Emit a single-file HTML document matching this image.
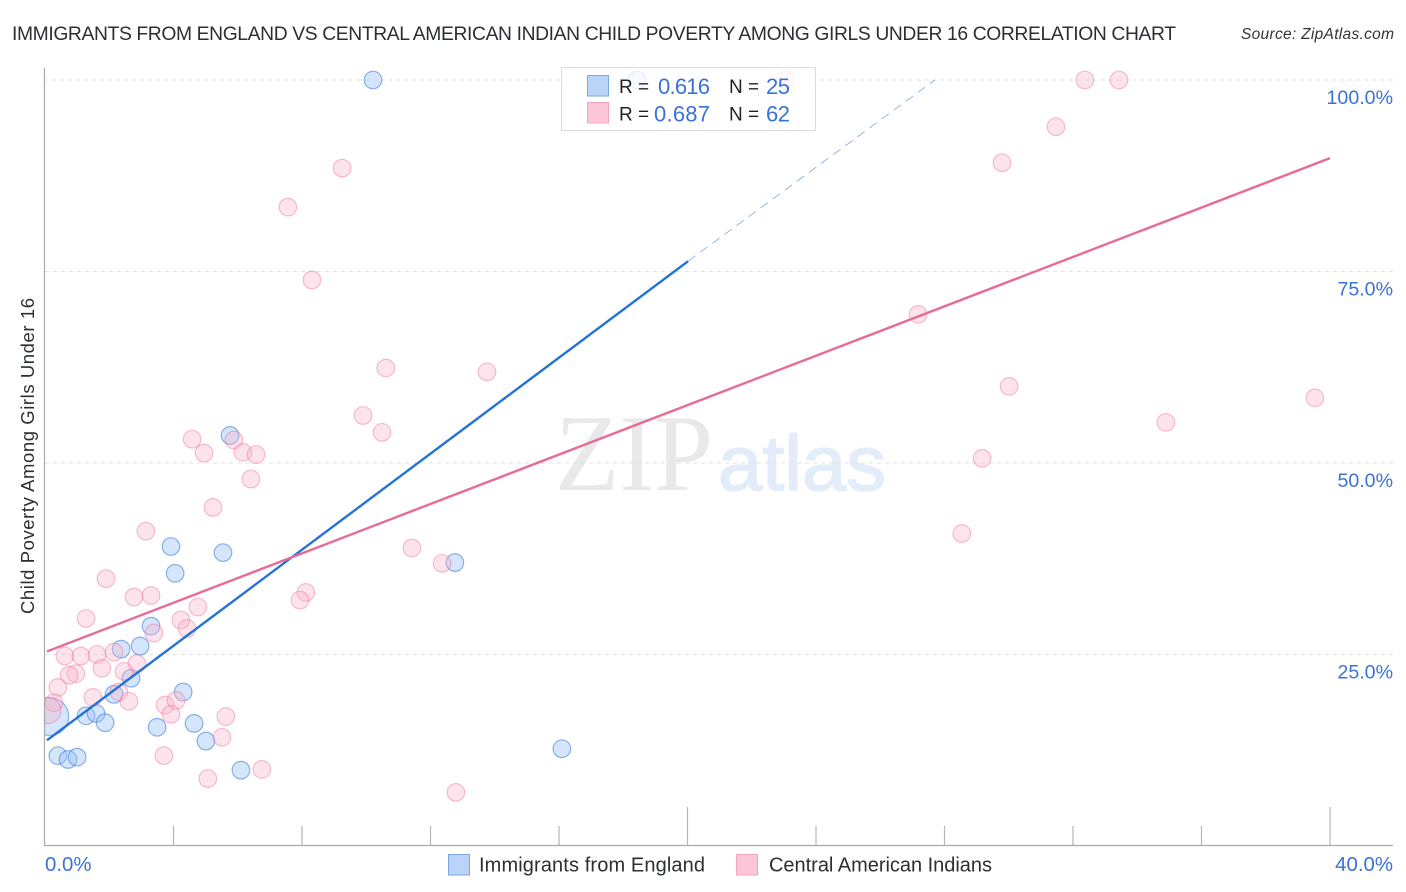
<!DOCTYPE html>
<html lang="en">
<head>
<meta charset="utf-8">
<title>Immigrants from England vs Central American Indian Child Poverty Chart</title>
<style>
html,body{margin:0;padding:0;background:#fff;width:1406px;height:892px;overflow:hidden}
svg{display:block}
text{font-family:"Liberation Sans",sans-serif}
</style>
</head>
<body>
<svg id="chart" xmlns="http://www.w3.org/2000/svg" width="1406" height="892" viewBox="0 0 1406 892">
  <defs>
    <clipPath id="plot-clip"><rect x="45" y="60" width="1348" height="785"/></clipPath>
  </defs>
  <rect x="0" y="0" width="1406" height="892" fill="#fff"/>
  <text x="12" y="40" font-size="19.3" fill="#2b2f33" textLength="1164" lengthAdjust="spacing">IMMIGRANTS FROM ENGLAND VS CENTRAL AMERICAN INDIAN CHILD POVERTY AMONG GIRLS UNDER 16 CORRELATION CHART</text>
  <text x="1241" y="39" font-size="15.5" font-style="italic" fill="#333" textLength="153" lengthAdjust="spacing">Source: ZipAtlas.com</text>

  <g>
    <text x="555" y="490" font-size="109" fill="#e9e9e9" style="font-family:'Liberation Serif',serif" textLength="158" lengthAdjust="spacingAndGlyphs">ZIP</text>
    <text x="718" y="490" font-size="78" fill="#e3edfa" stroke="#e3edfa" stroke-width="1.6" textLength="168" lengthAdjust="spacingAndGlyphs">atlas</text>
  </g>

  <g id="grid"></g>
  <g id="points" clip-path="url(#plot-clip)"></g>
  <g id="trends"></g>
  <g id="axes"></g>

  <text transform="translate(34,614) rotate(-90)" x="0" y="0" font-size="18.5" fill="#2b2f33" textLength="316" lengthAdjust="spacing">Child Poverty Among Girls Under 16</text>

  <g>
    <rect x="561.5" y="67.5" width="254" height="63" fill="#fff" fill-opacity="0.78" stroke="#dcdcdc" stroke-width="1"/>
    <rect x="587.5" y="75.5" width="21" height="20.5" fill="#b9d4f7" stroke="#7ba9e3"/>
    <text x="619" y="93" font-size="19" fill="#222">R =</text>
    <text x="658" y="94" font-size="22" fill="#3b72d6" textLength="52" lengthAdjust="spacing">0.616</text>
    <text x="729" y="93" font-size="19" fill="#222">N =</text>
    <text x="766" y="94" font-size="22" fill="#3b72d6" textLength="24" lengthAdjust="spacing">25</text>
    <rect x="587.5" y="102.5" width="21" height="20.5" fill="#fdc6d8" stroke="#f3a5c0"/>
    <text x="619" y="120.5" font-size="19" fill="#222">R =</text>
    <text x="654" y="121.5" font-size="22" fill="#3b72d6" textLength="56" lengthAdjust="spacing">0.687</text>
    <text x="729" y="120.5" font-size="19" fill="#222">N =</text>
    <text x="766" y="121.5" font-size="22" fill="#3b72d6" textLength="24" lengthAdjust="spacing">62</text>
  </g>

  <g>
    <rect x="448.5" y="854.5" width="21" height="20.5" fill="#b9d4f7" stroke="#7ba9e3"/>
    <text x="479" y="871.5" font-size="20" fill="#2b2f33" textLength="226" lengthAdjust="spacing">Immigrants from England</text>
    <rect x="736.5" y="854.5" width="21" height="20.5" fill="#fdc6d8" stroke="#f3a5c0"/>
    <text x="769" y="871.5" font-size="20" fill="#2b2f33" textLength="223" lengthAdjust="spacing">Central American Indians</text>
  </g>
</svg>

<script>
const xTickValues = [4, 8, 12, 16, 20, 24, 28, 32, 36, 40];
const xMajorTicks = [20, 40];
const xTickLabels = ['0.0%', '40.0%'];
const xLabelValues = [0, 40];
const yTickValues = [25, 50, 75, 100];
const yTickLabels = ['25.0%', '50.0%', '75.0%', '100.0%'];

const englandX = [10.21, 18.43, 5.76, 3.92, 5.54, 4.05, 12.76, 3.30, 2.37, 2.96, 2.68, 2.15, 4.30, 1.28, 1.59, 1.87, 3.49, 4.64, 5.01, 6.10, 16.09, 0.40, 0.72, 1.00, 0.15];
const englandY = [100, 100, 53.6, 39.1, 38.3, 35.6, 37.0, 28.7, 25.7, 26.1, 21.9, 19.8, 20.1, 17.0, 17.3, 16.1, 15.5, 16.0, 13.7, 9.9, 12.7, 11.8, 11.3, 11.6, 16.9];
const englandWeight = [1, 1, 1, 1, 1, 1, 1, 1, 1, 1, 1, 1, 1, 1, 1, 1, 1, 1, 1, 1, 1, 1, 1, 1, 4.6];

const centralX = [23.04, 32.37, 33.43, 31.47, 29.79, 9.25, 7.56, 8.31, 27.18, 30.01, 10.61, 13.76, 39.53, 9.90, 10.49, 34.89, 4.58, 5.88, 4.95, 6.16, 6.57, 29.17, 6.41, 5.23, 3.14, 28.54, 11.42, 12.36, 1.90, 2.77, 3.30, 8.12, 7.94, 4.76, 1.28, 4.23, 3.39, 4.42, 0.62, 1.12, 1.62, 2.15, 2.86, 2.46, 1.77, 0.96, 0.75, 0.40, 1.49, 2.30, 2.61, 0.28, 3.74, 4.08, 3.92, 5.63, 5.51, 3.70, 6.75, 5.07, 12.79, 0.09];
const centralY = [100, 100, 100, 93.9, 89.2, 88.5, 83.4, 73.9, 69.4, 60.0, 62.4, 61.9, 58.5, 56.2, 54.0, 55.3, 53.1, 53.0, 51.3, 51.4, 51.1, 50.6, 47.9, 44.2, 41.1, 40.8, 38.9, 36.9, 34.9, 32.5, 32.7, 33.1, 32.1, 31.2, 29.7, 29.5, 27.8, 28.4, 24.8, 24.8, 25.0, 25.3, 23.8, 22.8, 23.2, 22.5, 22.3, 20.7, 19.4, 20.1, 18.9, 18.7, 18.4, 19.0, 17.2, 16.9, 14.2, 11.8, 10.0, 8.8, 7.0, 17.7];
const centralWeight = [1, 1, 1, 1, 1, 1, 1, 1, 1, 1, 1, 1, 1, 1, 1, 1, 1, 1, 1, 1, 1, 1, 1, 1, 1, 1, 1, 1, 1, 1, 1, 1, 1, 1, 1, 1, 1, 1, 1, 1, 1, 1, 1, 1, 1, 1, 1, 1, 1, 1, 1, 1, 1, 1, 1, 1, 1, 1, 1, 1, 1, 2.2];

const englandTrendX = [0.06, 20.02];
const englandTrendY = [13.8, 76.35];
const englandProjectionX = [20.02, 27.7];
const englandProjectionY = [76.35, 100];
const centralTrendX = [0.06, 40];
const centralTrendY = [25.4, 89.8];

const NS = 'http://www.w3.org/2000/svg';
function xScale(v) { return 45 + v * 32.125; }
function yScale(v) { return 846 - v * 7.66; }
function make(tag, parent, attrs) {
  const el = document.createElementNS(NS, tag);
  for (const k in attrs) el.setAttribute(k, attrs[k]);
  parent.appendChild(el);
  return el;
}

const gridG = document.getElementById('grid');
const pointsG = document.getElementById('points');
const trendsG = document.getElementById('trends');
const axesG = document.getElementById('axes');

yTickValues.forEach(function (t, i) {
  const line = make('line', gridG, { x1: 45, x2: 1393, y1: yScale(t), y2: yScale(t), stroke: '#e2e2e2', 'stroke-width': 0.9, 'stroke-dasharray': '4 4' });
  
  
  const label = make('text', axesG, { x: 1393, y: yScale(t) + 24, 'font-size': 19.6, fill: '#3b72d6', 'text-anchor': 'end' });
  label.textContent = yTickLabels[i];
  
  
});

function drawSeries(xs, ys, weights, fill, stroke, name) {
  xs.forEach(function (x, i) {
    const c = make('circle', pointsG, { cx: xScale(x), cy: yScale(ys[i]), r: 8.8 * Math.sqrt(weights[i]), fill: fill, stroke: stroke, 'stroke-width': 1.2 });
    
    
  });
}
drawSeries(englandX, englandY, englandWeight, 'rgba(150,190,245,0.4)', 'rgba(55,120,215,0.55)', 'england-point');
drawSeries(centralX, centralY, centralWeight, 'rgba(250,175,200,0.34)', 'rgba(235,105,150,0.42)', 'central-american-point');

const t1 = make('line', trendsG, { x1: xScale(englandTrendX[0]), y1: yScale(englandTrendY[0]), x2: xScale(englandTrendX[1]), y2: yScale(englandTrendY[1]), stroke: '#2372d8', 'stroke-width': 2.4 });


const t2 = make('line', trendsG, { x1: xScale(englandProjectionX[0]), y1: yScale(englandProjectionY[0]), x2: xScale(englandProjectionX[1]), y2: yScale(englandProjectionY[1]), stroke: '#7fa6de', 'stroke-width': 0.8, 'stroke-dasharray': '9 6' });


const t3 = make('line', trendsG, { x1: xScale(centralTrendX[0]), y1: yScale(centralTrendY[0]), x2: xScale(centralTrendX[1]), y2: yScale(centralTrendY[1]), stroke: '#e86a9a', 'stroke-width': 2.4 });



const yAxis = make('line', axesG, { x1: 44.5, x2: 44.5, y1: 68, y2: 846, stroke: '#aaa', 'stroke-width': 1.2 });


const xAxis = make('line', axesG, { x1: 44, x2: 1393, y1: 845.5, y2: 845.5, stroke: '#aaa', 'stroke-width': 1.2 });



xTickValues.forEach(function (t) {
  const major = xMajorTicks.indexOf(t) >= 0;
  const tick = make('line', axesG, { x1: xScale(t), x2: xScale(t), y1: major ? 807 : 826, y2: 845, stroke: '#b5b5b5', 'stroke-width': 1.2 });
  
  
});

xLabelValues.forEach(function (v, i) {
  const label = make('text', axesG, { x: i === 0 ? xScale(v) : 1393, y: 871, 'font-size': 20.4, fill: '#3b72d6', 'text-anchor': i === 0 ? 'start' : 'end' });
  label.textContent = xTickLabels[i];
  
  
});
</script>
</body>
</html>
